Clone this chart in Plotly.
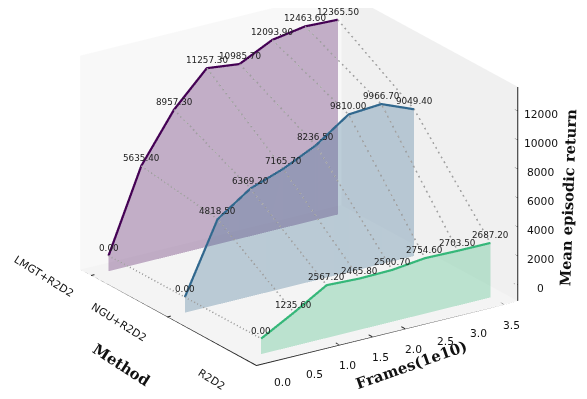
import math
import plotly.graph_objects as go

frames = [0.0, 0.5, 1.0, 1.5, 2.0, 2.5, 3.0, 3.5]
methods = ["LMGT+R2D2", "NGU+R2D2", "R2D2"]
method_pos = [2, 1, 0]
lmgt = [0.00, 5635.40, 8957.30, 11257.30, 10985.70, 12093.90, 12463.60, 12365.50]
ngu = [0.00, 4818.50, 6369.20, 7165.70, 8236.50, 9810.00, 9966.70, 9049.40]
r2d2 = [0.00, 1235.60, 2567.20, 2465.80, 2500.70, 2754.60, 2703.50, 2687.20]
series = [lmgt, ngu, r2d2]
colors = ["#440154", "#31688e", "#35b779"]
x_ticks = [0.0, 0.5, 1.0, 1.5, 2.0, 2.5, 3.0, 3.5]
z_ticks = [0, 2000, 4000, 6000, 8000, 10000, 12000]

x_range = [-0.27, 3.72]
y_range = [-0.17, 2.14]
z_range = [-1070, 13700]

fig = go.Figure()

for i in range(len(frames)):
    fig.add_trace(go.Scatter3d(
        x=[frames[i]] * 3, y=method_pos, z=[s[i] for s in series],
        mode="lines", line=dict(color="#a0a0a0", width=3, dash="dash"),
        hoverinfo="skip", showlegend=False))

for s, pos, col in zip(series, method_pos, colors):
    n = len(frames)
    xs = frames + frames
    ys = [pos] * (2 * n)
    zs = s + [z_range[0]] * n
    ii, jj, kk = [], [], []
    for a in range(n - 1):
        ii += [a, a + 1]
        jj += [a + 1, a + n + 1]
        kk += [a + n, a + n]
    fig.add_trace(go.Mesh3d(x=xs, y=ys, z=zs, i=ii, j=jj, k=kk, color=col, opacity=0.3,
                            flatshading=True, lighting=dict(ambient=1, diffuse=0, specular=0),
                            hoverinfo="skip", showlegend=False))
    fig.add_trace(go.Scatter3d(x=frames, y=[pos] * n, z=s, mode="lines",
                               line=dict(color=col, width=4.5), hoverinfo="skip", showlegend=False))

x0, x1 = x_range
y0, y1 = y_range
z0, z1 = z_range
line_x = [x0, x1, None, x0, x0, None, x1, x1]
line_y = [y0, y0, None, y0, y1, None, y0, y0]
line_z = [z0, z0, None, z0, z0, None, z0, z1]
dy, dx = 0.05, 0.055
for t in x_ticks:
    line_x += [None, t, t]
    line_y += [None, y0 - dy, y0 + dy]
    line_z += [None, z0, z0]
for p in method_pos:
    line_x += [None, x0 - dx, x0 + dx]
    line_y += [None, p, p]
    line_z += [None, z0, z0]
for t in z_ticks:
    line_x += [None, x1, x1]
    line_y += [None, y0 - dy, y0 + dy]
    line_z += [None, t, t]
fig.add_trace(go.Scatter3d(x=line_x, y=line_y, z=line_z, mode="lines",
                           line=dict(color="#222222", width=2), hoverinfo="skip",
                           showlegend=False, connectgaps=False))

annotations = []
for s, pos in zip(series, method_pos):
    for fx, v in zip(frames, s):
        annotations.append(dict(x=fx, y=pos, z=v, text=f"{v:.2f}", showarrow=False,
                                yshift=8, font=dict(size=8.8, color="#222", family="DejaVu Sans")))
for t in x_ticks:
    annotations.append(dict(x=t, y=y0, z=z0, text=f"{t:.1f}", showarrow=False,
                            xshift=8, yshift=-21, font=dict(size=10.7, color="#111", family="DejaVu Sans")))
for t in z_ticks:
    annotations.append(dict(x=x1, y=y0, z=t, text=str(t), showarrow=False,
                            xshift=23, yshift=-3, font=dict(size=10.7, color="#111", family="DejaVu Sans")))
for m, pos, sh in zip(methods, method_pos, [(-47, -1), (-48, -5), (-32, -21)]):
    annotations.append(dict(x=x0, y=pos, z=z0, text=m, showarrow=False, textangle=32,
                            xshift=sh[0], yshift=sh[1], font=dict(size=10.7, color="#111", family="DejaVu Sans")))
annotations.append(dict(x=x0, y=1, z=z0, text="<b>Method</b>", showarrow=False, textangle=33,
                        xshift=-46, yshift=-48, font=dict(size=15, color="#111", family="DejaVu Serif")))
annotations.append(dict(x=1.75, y=y0, z=z0, text="<b>Frames(1e10)</b>", showarrow=False, textangle=-19.5,
                        xshift=23, yshift=-32, font=dict(size=15, color="#111", family="DejaVu Serif")))
annotations.append(dict(x=x1, y=y0, z=6070, text="<b>Mean episodic return</b>", showarrow=False, textangle=-88,
                        xshift=50, font=dict(size=14.7, color="#111", family="DejaVu Serif")))

def axis(rng, bg):
    return dict(range=rng, autorange=False, showgrid=False, zeroline=False, showbackground=True,
                backgroundcolor=bg, showline=False, ticks="", showticklabels=False,
                title=dict(text=""), showspikes=False)

phi, el = math.radians(34.0), math.radians(21.5)
dist = 3.0
view = (-math.sin(phi) * math.cos(el), -math.cos(phi) * math.cos(el), math.sin(el))
right = (math.cos(phi), -math.sin(phi), 0.0)
up = (math.sin(el) * math.sin(phi), math.sin(el) * math.cos(phi), math.cos(el))
px_per_unit = 198.0
zoom = 1.58
sx, sy = -2.5 / px_per_unit, 29.0 / px_per_unit
center = [-(sx * r + sy * u) for r, u in zip(right, up)]
eye = [c + dist * v for c, v in zip(center, view)]

fig.update_layout(
    width=587, height=399, margin=dict(l=0, r=0, t=0, b=0), paper_bgcolor="white", showlegend=False,
    scene=dict(
        domain=dict(x=[0, 1], y=[0, 1]),
        xaxis=axis(x_range, "#f0f0f0"),
        yaxis=axis(y_range, "#f8f8f8"),
        zaxis=axis(z_range, "#f4f4f4"),
        aspectmode="manual", aspectratio=dict(x=zoom, y=zoom, z=0.73 * zoom),
        camera=dict(eye=dict(x=eye[0], y=eye[1], z=eye[2]),
                    center=dict(x=center[0], y=center[1], z=center[2]),
                    up=dict(x=0, y=0, z=1), projection=dict(type="orthographic")),
        annotations=annotations,
    ),
)
fig.write_html("out.html")
